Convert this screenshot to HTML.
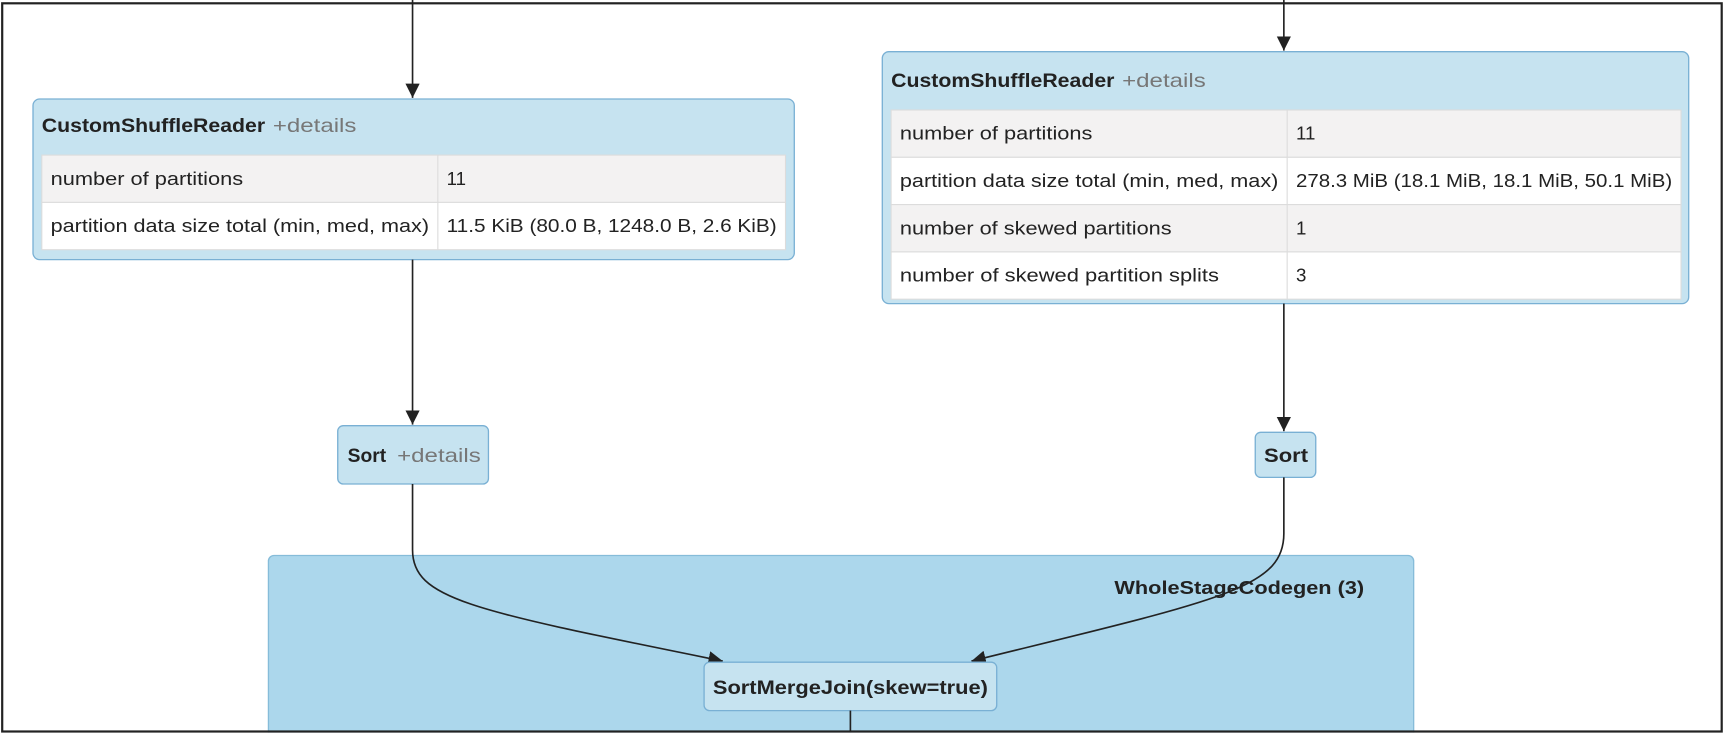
<!DOCTYPE html>
<html><head><meta charset="utf-8"><style>
html,body{margin:0;padding:0;background:#fff;}
svg{display:block;}
text{font-family:"Liberation Sans",sans-serif;fill:#222;}
.b{font-weight:bold;}
.g{fill:#777;}
</style></head><body>
<svg width="1725" height="737" viewBox="0 0 1568 670" preserveAspectRatio="none" xmlns="http://www.w3.org/2000/svg">
<defs>
<marker id="ah" viewBox="0 0 12 12" refX="12" refY="6" markerWidth="13" markerHeight="13" markerUnits="userSpaceOnUse" orient="auto">
<path d="M0,0 L12,6 L0,12 z" fill="#222"/>
</marker>
</defs>
<rect x="0" y="0" width="1568" height="670" fill="#fff"/>
<rect x="244" y="505" width="1041" height="180" rx="5" fill="#acd7ec" stroke="#86bcd9" stroke-width="1.2"/>
<text x="1013" y="540" font-size="17" class="b" textLength="227" lengthAdjust="spacingAndGlyphs">WholeStageCodegen (3)</text>

<line x1="375" y1="0" x2="375" y2="89" stroke="#222" stroke-width="1.5" marker-end="url(#ah)"/>
<line x1="1167" y1="0" x2="1167" y2="46" stroke="#222" stroke-width="1.5" marker-end="url(#ah)"/>

<!-- box1 -->
<rect x="30" y="90" width="692" height="146" rx="6" fill="#c6e3f0" stroke="#79b0d4" stroke-width="1.2"/>
<text x="38" y="120" font-size="17.5" class="b" textLength="203" lengthAdjust="spacingAndGlyphs">CustomShuffleReader</text>
<text x="248" y="120" font-size="17.5" class="g" textLength="76" lengthAdjust="spacingAndGlyphs">+details</text>
<rect x="38" y="141" width="676" height="43" fill="#f3f2f2" stroke="#dcdcdc"/>
<rect x="38" y="184" width="676" height="43" fill="#fff" stroke="#dcdcdc"/>
<line x1="398" y1="141" x2="398" y2="227" stroke="#dcdcdc"/>
<text x="46" y="168" font-size="17" textLength="175" lengthAdjust="spacingAndGlyphs">number of partitions</text>
<text x="406" y="168" font-size="17">11</text>
<text x="46" y="211" font-size="17" textLength="344" lengthAdjust="spacingAndGlyphs">partition data size total (min, med, max)</text>
<text x="406" y="211" font-size="17" textLength="300" lengthAdjust="spacingAndGlyphs">11.5 KiB (80.0 B, 1248.0 B, 2.6 KiB)</text>

<!-- box2 -->
<rect x="802" y="47" width="733" height="229" rx="6" fill="#c6e3f0" stroke="#79b0d4" stroke-width="1.2"/>
<text x="810" y="79" font-size="17.5" class="b" textLength="203" lengthAdjust="spacingAndGlyphs">CustomShuffleReader</text>
<text x="1020" y="79" font-size="17.5" class="g" textLength="76" lengthAdjust="spacingAndGlyphs">+details</text>
<rect x="810" y="100" width="718" height="43" fill="#f3f2f2" stroke="#dcdcdc"/>
<rect x="810" y="143" width="718" height="43" fill="#fff" stroke="#dcdcdc"/>
<rect x="810" y="186" width="718" height="43" fill="#f3f2f2" stroke="#dcdcdc"/>
<rect x="810" y="229" width="718" height="43" fill="#fff" stroke="#dcdcdc"/>
<line x1="1170" y1="100" x2="1170" y2="272" stroke="#dcdcdc"/>
<text x="818" y="127" font-size="17" textLength="175" lengthAdjust="spacingAndGlyphs">number of partitions</text>
<text x="1178" y="127" font-size="17">11</text>
<text x="818" y="170" font-size="17" textLength="344" lengthAdjust="spacingAndGlyphs">partition data size total (min, med, max)</text>
<text x="1178" y="170" font-size="17" textLength="342" lengthAdjust="spacingAndGlyphs">278.3 MiB (18.1 MiB, 18.1 MiB, 50.1 MiB)</text>
<text x="818" y="213" font-size="17" textLength="247" lengthAdjust="spacingAndGlyphs">number of skewed partitions</text>
<text x="1178" y="213" font-size="17">1</text>
<text x="818" y="256" font-size="17" textLength="290" lengthAdjust="spacingAndGlyphs">number of skewed partition splits</text>
<text x="1178" y="256" font-size="17">3</text>

<line x1="375" y1="236" x2="375" y2="386" stroke="#222" stroke-width="1.5" marker-end="url(#ah)"/>
<line x1="1167" y1="276" x2="1167" y2="392" stroke="#222" stroke-width="1.5" marker-end="url(#ah)"/>

<rect x="307" y="387" width="137" height="53" rx="5" fill="#c6e3f0" stroke="#79b0d4" stroke-width="1.2"/>
<text x="316" y="420" font-size="17.5" class="b" textLength="35" lengthAdjust="spacingAndGlyphs">Sort</text>
<text x="361" y="420" font-size="17.5" class="g" textLength="76" lengthAdjust="spacingAndGlyphs">+details</text>
<rect x="1141" y="393" width="55" height="41" rx="5" fill="#c6e3f0" stroke="#79b0d4" stroke-width="1.2"/>
<text x="1149" y="420" font-size="17.5" class="b" textLength="40" lengthAdjust="spacingAndGlyphs">Sort</text>

<path d="M375,440 L375,500 C375,545 430,555 657,601" fill="none" stroke="#222" stroke-width="1.5" marker-end="url(#ah)"/>
<path d="M1167,434 L1167,485 C1167,535 1110,545 883,601" fill="none" stroke="#222" stroke-width="1.5" marker-end="url(#ah)"/>

<rect x="640" y="602" width="266" height="44" rx="5" fill="#c6e3f0" stroke="#79b0d4" stroke-width="1.2"/>
<text x="648" y="631" font-size="17.5" class="b" textLength="250" lengthAdjust="spacingAndGlyphs">SortMergeJoin(skew=true)</text>
<line x1="773" y1="646" x2="773" y2="666" stroke="#222" stroke-width="1.5"/>

<rect x="0" y="666" width="1568" height="4" fill="#fff"/>
<rect x="2" y="3" width="1563" height="662" fill="none" stroke="#222" stroke-width="2"/>
</svg>
</body></html>
